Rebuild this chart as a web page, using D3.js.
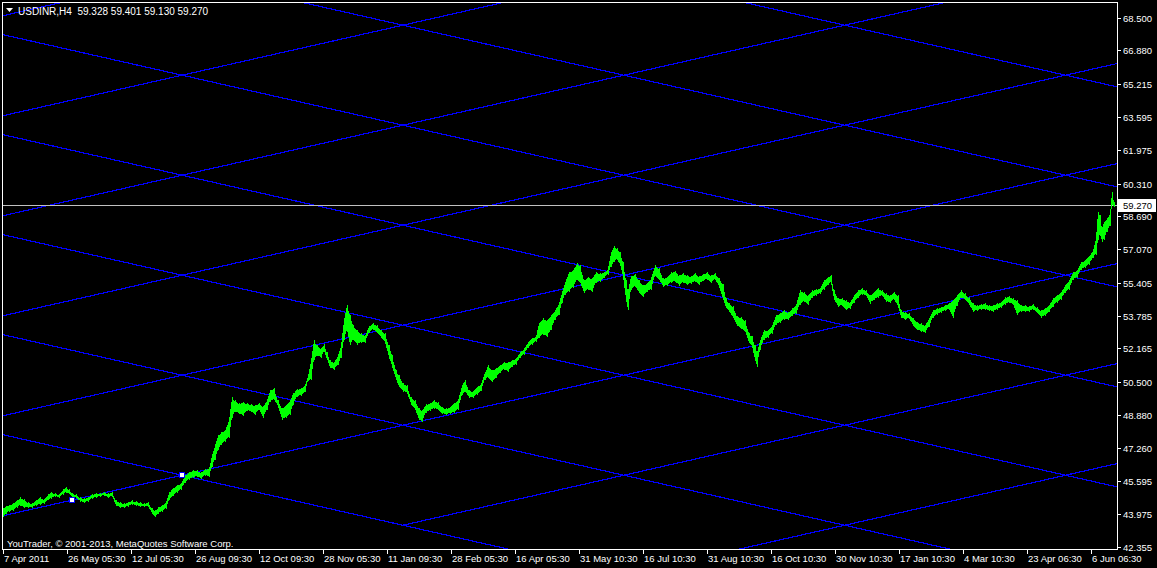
<!DOCTYPE html>
<html><head><meta charset="utf-8">
<script src="https://cdn.jsdelivr.net/npm/d3@7"></script>
<style>
html,body{margin:0;padding:0;background:#000;}
svg{display:block;}
text{font-family:"Liberation Sans",Arial,sans-serif;font-size:9.5px;fill:#fff;white-space:pre;}
</style></head><body>
<svg id="chart" width="1157" height="568"></svg>
<script>
// ---- data ----
const symbolTitle = "USDINR,H4  59.328 59.401 59.130 59.270";
const copyright = "YouTrader, \u00A9 2001-2013, MetaQuotes Software Corp.";
const lastPrice = 59.27;
const priceTicks = [68.5,66.88,65.215,63.595,61.975,60.31,58.69,57.07,55.405,53.785,52.165,50.5,48.88,47.26,45.595,43.975,42.355];
const priceMin = 42.355, priceMax = 68.5;
const timeTickBars = [0,64,128,192,256,320,384,448,512,576,640,704,768,832,896,960,1024,1088];
const timeTickLabels = ["7 Apr 2011","26 May 05:30","12 Jul 05:30","26 Aug 09:30","12 Oct 09:30","28 Nov 05:30","11 Jan 09:30","28 Feb 05:30","16 Apr 05:30","31 May 10:30","16 Jul 10:30","31 Aug 10:30","16 Oct 10:30","30 Nov 10:30","17 Jan 10:30","4 Mar 10:30","23 Apr 06:30","6 Jun 06:30"];
const lastBar = 1114;

const barIndex = [
 0,3,6,10,14,17,21,25,29,33,
 37,41,45,48,52,56,60,63,66,69,
 73,77,81,85,89,93,97,101,105,109,
 113,117,121,125,129,133,137,141,145,149,
 152,155,159,163,166,170,174,178,182,186,
 190,194,198,202,206,209,212,215,218,222,
 226,229,232,236,240,244,248,252,256,260,
 264,267,271,275,279,283,287,290,294,298,
 302,305,308,311,314,318,321,324,327,331,
 335,338,341,344,347,350,354,358,362,366,
 370,374,378,382,386,389,393,396,400,404,
 408,412,416,419,423,427,431,435,439,443,
 447,451,455,459,462,466,470,474,478,482,
 485,489,493,497,501,505,509,513,517,521,
 525,529,533,536,540,544,548,552,556,559,
 562,566,570,574,577,581,585,589,593,597,
 601,605,608,611,614,617,620,623,625,628,
 632,636,640,644,648,652,656,660,664,668,
 672,676,680,684,688,692,696,700,704,708,
 712,716,720,723,726,730,734,738,742,746,
 749,752,754,757,761,765,769,773,777,781,
 785,789,793,797,801,805,809,813,817,821,
 825,828,831,835,839,843,847,851,855,859,
 863,867,871,875,879,883,887,891,895,898,
 902,906,910,914,918,922,926,930,934,938,
 942,946,950,954,958,962,966,970,974,978,
 982,986,990,994,998,1002,1006,1010,1014,1018,
 1022,1026,1030,1034,1038,1042,1046,1050,1054,1058,
 1062,1066,1070,1074,1078,1082,1086,1090,1093,1095,
 1097,1099,1101,1104,1107,1109,1111
];
const highs = [
 44.28,44.38,44.43,44.53,44.67,44.82,44.72,44.58,44.53,44.67,
 44.82,44.72,44.97,45.07,45.02,44.97,45.22,45.32,45.22,45.02,
 44.97,44.82,44.77,44.82,44.97,45.02,45.02,45.07,45.02,45.07,
 44.67,44.58,44.53,44.58,44.67,44.62,44.58,44.53,44.58,44.28,
 44.18,44.33,44.43,44.58,45.07,45.27,45.42,45.51,45.91,46.06,
 46.16,46.16,46.06,46.21,46.25,46.90,47.39,47.89,48.03,48.13,
 48.63,49.76,49.61,49.47,49.52,49.47,49.42,49.37,49.47,49.32,
 49.61,50.11,50.21,49.61,49.22,49.37,49.61,49.96,50.16,50.21,
 50.36,50.80,51.59,52.58,52.33,52.18,52.38,51.99,51.59,51.49,
 51.84,52.33,53.57,54.31,53.81,53.32,53.07,52.92,52.82,53.27,
 53.42,53.32,53.07,52.92,52.33,51.84,51.10,50.85,50.45,50.36,
 49.76,49.61,49.22,49.12,49.42,49.47,49.61,49.52,49.27,49.22,
 49.27,49.47,49.61,50.36,50.60,50.11,50.06,50.26,50.45,51.00,
 51.34,51.10,51.20,51.34,51.49,51.49,51.59,51.69,51.99,52.18,
 52.48,52.68,52.78,53.42,53.67,53.57,53.81,54.06,54.41,54.95,
 55.44,55.94,56.04,56.38,56.28,55.54,55.69,55.64,55.94,55.89,
 55.94,56.13,56.92,57.22,57.12,56.92,56.43,55.54,55.05,55.74,
 55.84,55.54,55.30,55.39,55.64,56.28,56.13,55.64,55.69,55.94,
 55.99,55.79,55.89,55.79,55.74,55.89,55.74,55.84,55.94,55.79,
 55.89,55.64,55.34,54.65,54.41,54.26,53.76,53.71,53.57,52.92,
 52.78,52.33,51.99,52.58,53.07,53.07,53.32,53.81,53.91,54.06,
 53.96,54.16,54.31,55.05,54.95,54.80,55.05,55.10,55.15,55.54,
 55.69,55.79,55.05,54.65,54.65,54.55,54.46,54.80,55.05,55.15,
 55.05,54.80,54.95,55.15,55.05,54.90,54.80,54.95,54.80,54.06,
 53.96,53.91,53.67,53.47,53.42,53.32,53.67,54.06,54.16,54.21,
 54.31,54.41,54.55,54.80,55.05,54.90,54.70,54.41,54.31,54.36,
 54.41,54.31,54.31,54.41,54.46,54.70,54.75,54.65,54.55,54.31,
 54.31,54.26,54.36,54.21,54.06,54.16,54.31,54.65,54.80,54.95,
 55.30,55.54,55.94,56.04,56.43,56.53,56.73,57.02,57.62,58.90,
 58.75,58.11,58.41,58.60,58.85,59.89,59.40
];
const lows = [
 43.83,43.98,44.08,44.13,44.28,44.38,44.28,44.28,44.28,44.38,
 44.43,44.48,44.67,44.72,44.82,44.77,44.92,45.02,44.97,44.77,
 44.77,44.58,44.53,44.58,44.72,44.77,44.82,44.87,44.77,44.82,
 44.38,44.28,44.28,44.33,44.43,44.38,44.33,44.33,44.33,43.98,
 43.83,43.98,44.08,44.23,44.67,44.87,45.02,45.17,45.51,45.66,
 45.76,45.81,45.71,45.86,45.81,46.31,46.65,47.14,47.39,47.54,
 47.74,48.72,49.02,48.92,48.82,49.07,49.02,48.87,49.12,48.72,
 49.12,49.52,49.61,49.27,48.63,48.72,48.87,49.37,49.76,49.81,
 50.01,50.55,50.60,51.59,51.79,51.69,51.99,51.59,51.20,51.10,
 51.34,51.69,52.58,53.07,52.33,52.58,52.33,52.43,52.43,52.92,
 53.07,52.92,52.68,52.43,51.69,51.25,50.60,50.26,50.01,49.96,
 49.37,49.12,48.63,48.53,48.97,49.07,49.17,49.12,48.92,48.87,
 48.92,48.97,49.12,49.86,50.01,49.71,49.71,49.86,50.06,50.60,
 50.70,50.50,50.70,50.95,51.10,51.00,51.25,51.34,51.69,51.84,
 52.18,52.33,52.48,52.68,52.82,52.73,53.07,53.57,53.81,54.41,
 54.80,54.95,55.15,55.54,55.39,54.90,55.05,54.95,55.39,55.44,
 55.64,55.79,56.18,56.43,56.53,56.28,55.69,54.55,54.06,55.05,
 55.20,54.90,54.70,54.95,55.05,55.74,55.54,55.20,55.25,55.39,
 55.44,55.25,55.39,55.30,55.34,55.44,55.30,55.49,55.54,55.39,
 55.54,55.20,54.55,54.16,53.96,53.67,53.27,53.12,52.97,52.43,
 52.23,51.59,51.25,52.08,52.58,52.68,52.88,53.32,53.42,53.57,
 53.57,53.76,53.86,54.31,54.46,54.31,54.65,54.75,54.85,55.05,
 55.30,55.39,54.55,54.21,54.26,54.06,54.11,54.41,54.65,54.80,
 54.75,54.36,54.55,54.65,54.75,54.46,54.41,54.55,54.21,53.67,
 53.57,53.61,53.27,53.07,52.97,52.92,53.22,53.67,53.81,53.91,
 54.01,54.06,53.67,54.26,54.65,54.55,54.31,53.96,54.01,54.06,
 54.06,54.01,53.96,54.06,54.16,54.31,54.41,54.31,53.81,53.96,
 53.96,53.96,54.06,53.91,53.67,53.76,53.96,54.21,54.41,54.55,
 54.90,55.05,55.54,55.64,56.04,56.13,56.28,56.63,56.78,57.52,
 57.77,57.42,57.52,57.91,58.21,59.25,59.13
];
// Gann grid anchors (bar index, price) and grid step (price)
const gannA = {bar: 69, price: 44.67};
const gannB = {bar: 179, price: 45.90};
const gannStep = 4.94;
const risingSteps = [-2,-1,0,1,2,3,4,5];
const fallingSteps = [0,1,2,3,4,5,6];

// ---- layout ----
const W = 1157, H = 568;
const plot = {left: 2, top: 2, right: 1117, bottom: 549};
const svg = d3.select("#chart");
svg.append("rect").attr("width", W).attr("height", H).attr("fill", "#000");

const x = d3.scaleLinear().domain([0, lastBar]).range([3, 1117]);
const y = d3.scaleLinear().domain([priceMin, priceMax]).range([547, 17.7]);

svg.append("clipPath").attr("id", "clip").append("rect")
  .attr("x", plot.left + 1).attr("y", plot.top + 1)
  .attr("width", plot.right - plot.left - 1).attr("height", plot.bottom - plot.top - 1);
const g = svg.append("g").attr("clip-path", "url(#clip)");

// Gann grid lines
const slope = (gannB.price - gannA.price) / (gannB.bar - gannA.bar);
const b0 = x.invert(plot.left), b1 = x.invert(plot.right);
const rise = (k, b) => gannA.price + slope * (b - gannA.bar) + k * gannStep;
const fall = (j, b) => gannB.price - slope * (b - gannB.bar) + j * gannStep;
const gannLines = [];
risingSteps.forEach(k => {
  let start = b0;
  if (k < 0) start = (gannB.price - gannA.price + slope * (gannA.bar + gannB.bar) - k * gannStep) / (2 * slope);
  gannLines.push([[start, rise(k, start)], [b1, rise(k, b1)]]);
});
fallingSteps.forEach(j => gannLines.push([[b0, fall(j, b0)], [b1, fall(j, b1)]]));
g.selectAll("line.gann").data(gannLines).enter().append("line")
  .attr("x1", d => x(d[0][0])).attr("y1", d => y(d[0][1]))
  .attr("x2", d => x(d[1][0])).attr("y2", d => y(d[1][1]))
  .attr("stroke", "#0000ff").attr("stroke-width", 1.2).attr("shape-rendering", "crispEdges");

// current price line
g.append("line").attr("x1", plot.left).attr("x2", plot.right)
  .attr("y1", Math.round(y(lastPrice)) + 0.5).attr("y2", Math.round(y(lastPrice)) + 0.5)
  .attr("stroke", "#c0c0c0").attr("stroke-width", 1);

// price bars
const bars = barIndex.map((b, i) => ({b, hi: highs[i], lo: lows[i]}));
const area = d3.area().x(d => x(d.b)).y0(d => y(d.lo) - 1).y1(d => y(d.hi) + 1);
g.append("path").datum(bars).attr("d", area)
  .attr("fill", "#00ff00").attr("shape-rendering", "crispEdges");
g.selectAll("line.bar").data(bars).enter().append("line")
  .attr("x1", d => Math.round(x(d.b)) + 0.5).attr("x2", d => Math.round(x(d.b)) + 0.5)
  .attr("y1", d => y(d.hi)).attr("y2", d => y(d.lo))
  .attr("stroke", "#00ff00").attr("stroke-width", 1.5).attr("shape-rendering", "crispEdges");

// Gann anchor markers
g.selectAll("rect.anchor").data([gannA, gannB]).enter().append("rect")
  .attr("x", d => Math.round(x(d.bar)) - 2.5).attr("y", d => Math.round(y(d.price)) - 2.5)
  .attr("width", 5).attr("height", 5).attr("fill", "#fff").attr("stroke", "#0000ff").attr("stroke-width", 1);

// frame
const frame = svg.append("g").attr("stroke", "#fff").attr("stroke-width", 1).attr("shape-rendering", "crispEdges");
frame.append("line").attr("x1", plot.left + 0.5).attr("x2", plot.left + 0.5).attr("y1", plot.top).attr("y2", plot.bottom + 0.5);
frame.append("line").attr("x1", plot.left).attr("x2", plot.right + 0.5).attr("y1", plot.top + 0.5).attr("y2", plot.top + 0.5);
frame.append("line").attr("x1", plot.right + 0.5).attr("x2", plot.right + 0.5).attr("y1", plot.top).attr("y2", plot.bottom + 0.5);
frame.append("line").attr("x1", plot.left).attr("x2", plot.right + 0.5).attr("y1", plot.bottom + 0.5).attr("y2", plot.bottom + 0.5);

// y axis
const yAxis = svg.append("g");
priceTicks.forEach(v => {
  const yy = Math.round(y(v));
  yAxis.append("line").attr("x1", plot.right).attr("x2", plot.right + 4)
    .attr("y1", yy + 0.5).attr("y2", yy + 0.5).attr("stroke", "#fff").attr("shape-rendering", "crispEdges");
  yAxis.append("text").attr("x", 1123).attr("y", yy + 3.5).text(d3.format(".3f")(v));
});
// last price label
const ly = Math.round(y(lastPrice));
svg.append("rect").attr("x", plot.right + 1).attr("y", ly - 6).attr("width", 38).attr("height", 13).attr("fill", "#fff");
svg.append("text").attr("x", 1123).attr("y", ly + 3.5).style("fill", "#000").text(d3.format(".3f")(lastPrice));

// x axis
const xAxis = svg.append("g");
timeTickBars.forEach((b, i) => {
  const xx = Math.round(x(b));
  xAxis.append("line").attr("x1", xx + 0.5).attr("x2", xx + 0.5).attr("y1", plot.bottom).attr("y2", plot.bottom + 5)
    .attr("stroke", "#fff").attr("shape-rendering", "crispEdges");
  xAxis.append("text").attr("x", xx + 1).attr("y", 562).text(timeTickLabels[i]);
});

// header
svg.append("path").attr("d", "M6,8 L13,8 L9.5,12 Z").attr("fill", "#fff");
svg.append("text").attr("x", 18).attr("y", 14.5).attr("xml:space", "preserve").style("font-size", "10px").text(symbolTitle);
svg.append("text").attr("x", 7).attr("y", 546.5).text(copyright);
</script>
</body></html>
